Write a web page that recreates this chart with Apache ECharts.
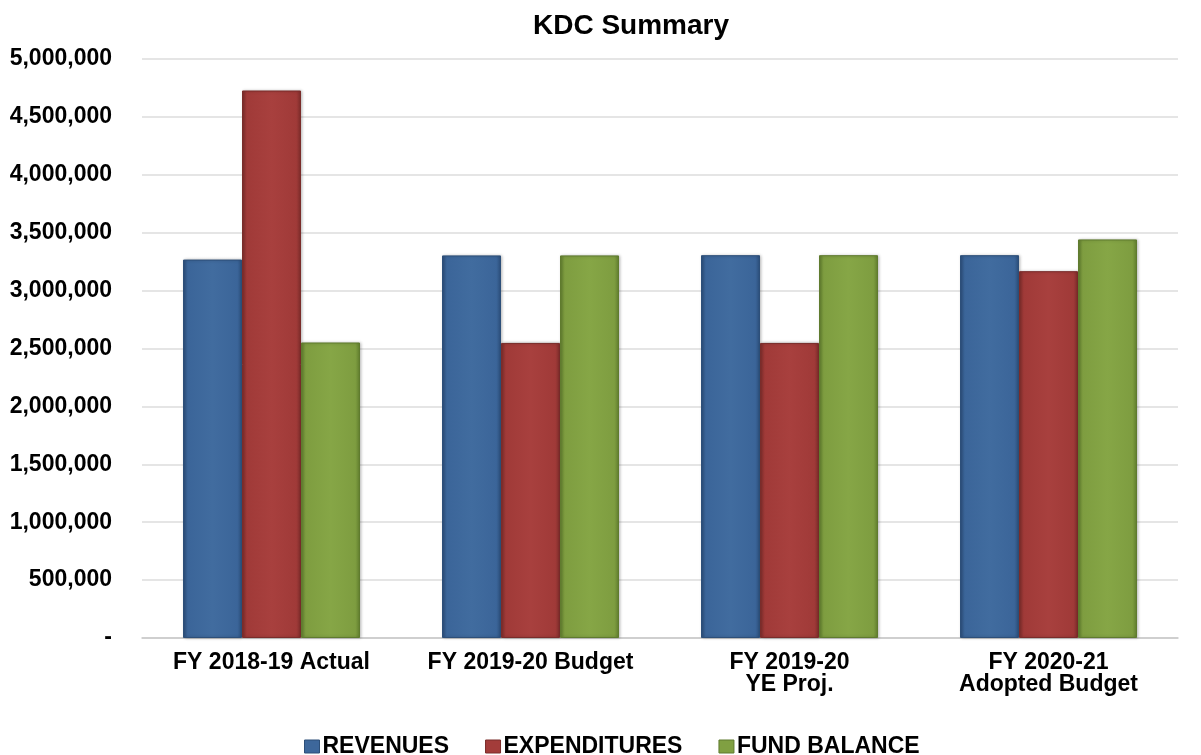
<!DOCTYPE html>
<html>
<head>
<meta charset="utf-8">
<script src="https://cdn.jsdelivr.net/npm/echarts@6/dist/echarts.min.js"></script>
<style>
html,body{margin:0;padding:0;background:#fff;}
#chart{width:1201px;height:755px;}
</style>
</head>
<body>
<div id="chart"></div>
<script>
var categories = ['FY 2018-19 Actual', 'FY 2019-20 Budget', 'FY 2019-20\nYE Proj.', 'FY 2020-21\nAdopted Budget'];
var revenues = [3268000, 3304000, 3306000, 3306000];
var expenditures = [4728000, 2548000, 2548000, 3168000];
var fundBalance = [2552000, 3304000, 3306000, 3442000];
var seriesNames = ['REVENUES', 'EXPENDITURES', 'FUND BALANCE'];
var yTicks = [0, 500000, 1000000, 1500000, 2000000, 2500000, 3000000, 3500000, 4000000, 4500000, 5000000];

var FONT = '"Liberation Sans", Arial, sans-serif';

function grad(dark, mid, light) {
  return new echarts.graphic.LinearGradient(0, 0, 1, 0, [
    {offset: 0, color: dark},
    {offset: 0.08, color: mid},
    {offset: 0.5, color: light},
    {offset: 0.92, color: mid},
    {offset: 1, color: dark}
  ]);
}
var colors = [
  {main: '#3d679b', fill: grad('#2c4f7c', '#3b6599', '#416c9f'), border: '#2d4f79'},
  {main: '#a33c3a', fill: grad('#7e2d2b', '#a03a38', '#a8403e'), border: '#7a2c2a'},
  {main: '#80a042', fill: grad('#62802f', '#7e9d40', '#86a646'), border: '#5f7b2e'}
];
var dataSets = [revenues, expenditures, fundBalance];

var series = seriesNames.map(function (n, i) {
  return {
    name: n,
    type: 'bar',
    data: dataSets[i],
    barWidth: 59,
    barGap: '0%',
    itemStyle: {
      color: colors[i].fill,
      borderColor: colors[i].border,
      borderWidth: 1,
      shadowColor: 'rgba(0,0,0,0.25)',
      shadowBlur: 3,
      shadowOffsetX: 1,
      shadowOffsetY: 0
    }
  };
});

var chart = echarts.init(document.getElementById('chart'), null, {renderer: 'canvas'});
chart.setOption({
  animation: false,
  backgroundColor: '#ffffff',
  title: {
    text: 'KDC Summary',
    left: 533,
    top: 12,
    padding: 0,
    textStyle: {fontFamily: FONT, fontSize: 28, fontWeight: 'bold', color: '#000'}
  },
  legend: {
    data: seriesNames.map(function (n, i) {
      return {name: n, itemStyle: {color: colors[i].main, borderColor: colors[i].border, borderWidth: 1}};
    }),
    left: 304,
    top: 735,
    padding: 0,
    itemGap: 36,
    itemWidth: 15,
    itemHeight: 13,
    icon: 'rect',
    textStyle: {fontFamily: FONT, fontSize: 23, fontWeight: 'bold', color: '#000', padding: [0, 0, 0, -2]}
  },
  grid: {left: 142, right: 23, top: 59, bottom: 117, containLabel: false},
  xAxis: {
    type: 'category',
    data: categories,
    axisLine: {show: true, lineStyle: {color: '#c8c8c8', width: 1.5}},
    axisTick: {show: false},
    axisLabel: {
      interval: 0,
      margin: 14,
      fontFamily: FONT, fontSize: 23, fontWeight: 'bold', color: '#000', lineHeight: 22
    }
  },
  yAxis: {
    type: 'value',
    min: yTicks[0],
    max: yTicks[yTicks.length - 1],
    interval: yTicks[1] - yTicks[0],
    axisLine: {show: false},
    axisTick: {show: false},
    splitLine: {lineStyle: {color: '#dcdcdc', width: 1.5}},
    axisLabel: {
      margin: 30,
      fontFamily: FONT, fontSize: 23, fontWeight: 'bold', color: '#000',
      formatter: function (v) {
        if (v === 0) return '-';
        return String(v).replace(/\B(?=(\d{3})+(?!\d))/g, ',');
      }
    }
  },
  series: series
});
</script>
</body>
</html>
